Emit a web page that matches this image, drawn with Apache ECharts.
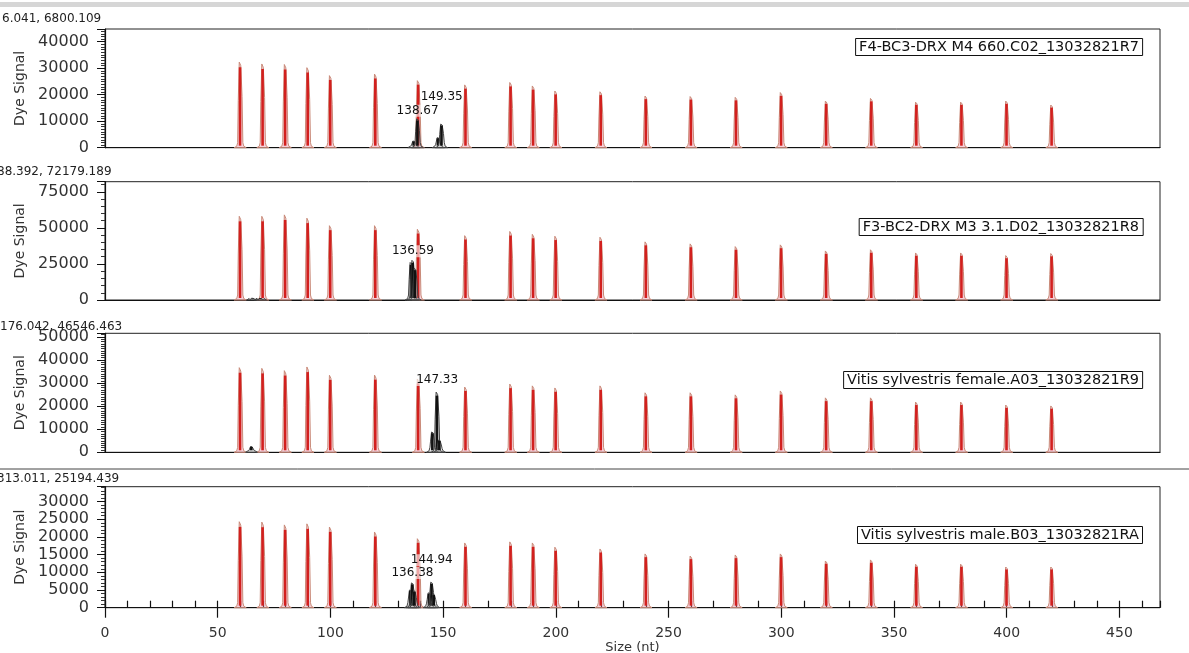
<!DOCTYPE html>
<html><head><meta charset="utf-8">
<script src="https://cdn.jsdelivr.net/npm/echarts@6/dist/echarts.min.js"></script>
<style>html,body{margin:0;padding:0;background:#fff}#c{width:1189px;height:653px}</style>
</head><body><div id="c"></div>
<script>
// ---- data ----
const sizes = [60,70,80,90,100,120,139,160,180,190,200,220,240,260,280,300,320,340,360,380,400,420];
const std1 = [32300,31600,31400,30200,27200,27800,25300,23700,24600,23300,21400,21100,19500,19300,19000,20800,17600,18600,17200,17200,17600,16100];
const std2 = [58000,58000,59000,56700,51500,51500,49000,44600,47500,45500,44200,43500,40300,38900,37000,38200,34000,34800,32600,32600,30800,32200];
const std3 = [36700,36400,35400,37000,33400,33500,31800,28300,29600,28800,27900,28800,25800,25800,24900,26600,23600,23600,21800,21800,20500,20100];
const std4 = [24300,24200,23400,23700,22800,21400,19500,18300,18600,18300,17100,16600,15200,14600,14900,15200,13200,13500,12300,12300,11500,11500];
const sample1 = [[137.0,2500],[138.67,10900],[147.8,3800],[149.35,8900]];
const sample2 = [[65.5,1200],[69.0,900],[135.8,26000],[136.59,27500],[137.6,22000]];
const sample3 = [[65.0,2500],[145.3,8800],[147.33,26100],[148.4,5300]];
const sample4 = [[135.5,5000],[136.38,7000],[137.3,4800],[143.8,4200],[144.94,7200],[145.9,3800]];
const calls1 = [138.67,149.35];
const calls2 = [136.59];
const calls3 = [147.33];
const calls4 = [136.38,144.94];
const headers = ['6.041, 6800.109','88.392, 72179.189','176.042, 46546.463','313.011, 25194.439'];
const sampleNames = ['F4-BC3-DRX M4 660.C02_13032821R7','F3-BC2-DRX M3 3.1.D02_13032821R8','Vitis sylvestris female.A03_13032821R9','Vitis sylvestris male.B03_13032821RA'];
const yMax = [44800, 82000, 51600, 34200];
const yStep = [10000, 25000, 10000, 5000];
const yMinorSplit = [10, 5, 10, 5];
const xTicks = [0,50,100,150,200,250,300,350,400,450];
const xMin = 0, xMax = 468;
const xName = 'Size (nt)';
const yName = 'Dye Signal';

// ---- layout / style ----
const stds = [std1,std2,std3,std4];
const samples = [sample1,sample2,sample3,sample4];
const calls = [calls1,calls2,calls3,calls4];
const gTop = [29, 181.7, 333.3, 486.7];
const gH = [118.7, 118.3, 119, 121];
const headerTop = [13, 166, 321, 473];
const headerLeft = [2, -3, 0, -3];
const boxTop = [38, 218, 371, 526];
const labelLift = [[8, 27], [9], [12], [10, 22]];
const FONT = 'DejaVu Sans, Liberation Sans, sans-serif';

function peakRenderer(inner, outline, fill) {
  return function (params, api) {
    const x = api.value(0), h = api.value(1);
    const b = api.coord([x, 0]);
    const t = api.coord([x, h]);
    const bx = b[0], by = b[1], ty = t[1];
    const H = by - ty;
    const f = Math.min(5, H * 0.3);
    return {
      type: 'group',
      children: [
        { type: 'polygon',
          shape: { points: [[bx-6,by],[bx-3.5,by-1.5],[bx-2.6,by-f],[bx-2,ty+H*0.45],[bx-1,ty],[bx+0.5,ty+H*0.04],[bx+1.8,ty+H*0.4],[bx+2.6,by-f],[bx+3.5,by-1.5],[bx+6,by]] },
          style: { stroke: outline, fill: fill, lineWidth: 1 } },
        { type: 'line',
          shape: { x1: bx-0.2, y1: by-2, x2: bx-0.2, y2: ty + H*0.06 },
          style: { stroke: inner, lineWidth: 2.6 } }
      ]
    };
  };
}

const grids = [], xAxes = [], yAxes = [], series = [], titles = [];
for (let i = 0; i < 4; i++) {
  grids.push({ left: 105, right: 29, top: gTop[i], height: gH[i], show: true, borderColor: '#222', borderWidth: 1,
    outerBoundsMode: 'none', containLabel: false });
  const last = i === 3;
  xAxes.push({
    type: 'value', gridIndex: i, min: xMin, max: xMax, interval: 50,
    axisLine: { show: true, onZero: false, lineStyle: { color: '#111', width: 1.2 } },
    axisTick: { show: last, length: 10, customValues: xTicks, lineStyle: { color: '#111', width: 1.2 } },
    axisLabel: { show: last, customValues: xTicks, margin: 19, fontSize: 14, color: '#333', fontFamily: FONT },
    splitLine: { show: false },
    name: last ? xName : '', nameLocation: 'middle', nameGap: 32,
    nameTextStyle: { fontSize: 13, color: '#333', fontFamily: FONT }
  });
  yAxes.push({
    type: 'value', gridIndex: i, min: 0, max: yMax[i], interval: yStep[i],
    axisLine: { show: true, lineStyle: { color: '#111', width: 1.2 } },
    axisTick: { show: true, length: 8, lineStyle: { color: '#111' } },
    minorTick: { show: true, splitNumber: yMinorSplit[i], length: 4, lineStyle: { color: '#333' } },
    axisLabel: { margin: 16, fontSize: 16, color: '#333', fontFamily: FONT, showMaxLabel: false,
      formatter: v => String(v) },
    splitLine: { show: false },
    name: yName, nameLocation: 'middle', nameGap: 78,
    nameTextStyle: { fontSize: 14, color: '#333', fontFamily: FONT }
  });
  titles.push({ text: headers[i], left: headerLeft[i], top: headerTop[i], padding: 0,
    textStyle: { fontSize: 12, fontWeight: 'normal', color: '#222', fontFamily: FONT } });
  titles.push({ text: sampleNames[i], right: 46, top: boxTop[i], padding: [2, 4, 1, 4],
    borderWidth: 1, borderColor: '#111', backgroundColor: '#fff',
    textStyle: { fontSize: 14.5, fontWeight: 'normal', color: '#111', fontFamily: FONT } });
}
// overlay x axis for bottom panel: ticks every 10 upward
xAxes.push({
  type: 'value', gridIndex: 3, min: xMin, max: xMax, interval: 10, position: 'bottom',
  axisLine: { show: false, onZero: false },
  axisTick: { show: true, inside: true, length: 7, lineStyle: { color: '#111', width: 1.2 } },
  axisLabel: { show: false }, splitLine: { show: false }
});

for (let i = 0; i < 4; i++) {
  series.push({
    type: 'custom', xAxisIndex: i, yAxisIndex: i, z: 2,
    renderItem: peakRenderer('#d2201e', '#c98a78', 'rgba(236,140,165,0.40)'),
    data: sizes.map((s, k) => [s, stds[i][k]])
  });
  series.push({
    type: 'custom', xAxisIndex: i, yAxisIndex: i, z: 3,
    renderItem: peakRenderer('#111', '#444', 'rgba(160,160,160,0.25)'),
    data: samples[i]
  });
  const callData = calls[i].map(c => {
    const p = samples[i].find(s => s[0] === c);
    return [c, p ? p[1] : 0];
  });
  const lifts = labelLift[i];
  series.push({
    type: 'custom', xAxisIndex: i, yAxisIndex: i, z: 4,
    renderItem: function (params, api) {
      const pt = api.coord([api.value(0), api.value(1)]);
      return { type: 'text', x: pt[0], y: pt[1] - lifts[params.dataIndex],
        style: { text: api.value(0).toFixed(2), textAlign: 'center', textVerticalAlign: 'middle',
          fontSize: 12, fontFamily: FONT, fill: '#111', backgroundColor: 'rgba(255,255,255,0.6)' } };
    },
    data: callData
  });
}

const chart = echarts.init(document.getElementById('c'), null, { renderer: 'canvas' });
chart.setOption({
  backgroundColor: '#fff',
  animation: false,
  title: titles,
  grid: grids, xAxis: xAxes, yAxis: yAxes, series: series,
  graphic: [
    { type: 'rect', shape: { x: 0, y: 2, width: 1189, height: 5 }, style: { fill: '#d6d6d6' } },
    { type: 'line', shape: { x1: 0, y1: 469, x2: 1189, y2: 469 }, style: { stroke: '#444', lineWidth: 1 } }
  ]
});
</script></body></html>
